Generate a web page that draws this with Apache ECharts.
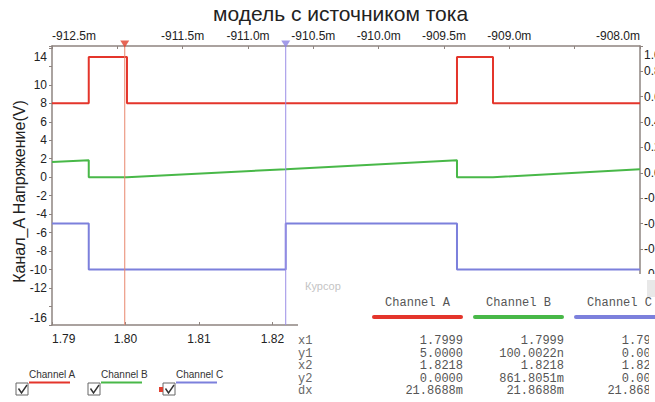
<!DOCTYPE html>
<html>
<head>
<meta charset="utf-8">
<script src="https://cdn.jsdelivr.net/npm/echarts@6/dist/echarts.min.js"></script>
<style>
  html, body { margin: 0; padding: 0; background: #ffffff; }
  #chart { width: 655px; height: 402px; }
</style>
</head>
<body>
<div id="chart"></div>
<script>
// Displayed traces: [time (s), level on the left scale (V)]
const channelA = [[1.79, 8], [1.7950, 8], [1.7950, 13], [1.8002, 13], [1.8002, 8],
                  [1.8451, 8], [1.8451, 13], [1.8500, 13], [1.8500, 8], [1.87, 8]];
const channelB = [[1.79, 1.64], [1.7950, 1.83], [1.7950, 0], [1.8002, 0], [1.8218, 0.86],
                  [1.8451, 1.82], [1.8451, 0], [1.8500, 0], [1.87, 0.85]];
const channelC = [[1.79, -5], [1.7950, -5], [1.7950, -10], [1.8218, -10], [1.8218, -5],
                  [1.8451, -5], [1.8451, -10], [1.87, -10]];

const channelNames = ['Channel A', 'Channel B', 'Channel C'];

// Cursor positions (s)
const cursorX = [1.7999, 1.8218];

// Axis ranges
const timeRange = [1.79, 1.87];
const offsetRange = [-912.5, -908.0];     // top scale, in m
const leftRange = [-16, 14.2];
const rightRange = [-1.2, 1.0];
const hiddenLeftTicks = [12, -14];
const hiddenTopTicks = [-912.0, -908.5];
const lastTimeLabel = 1.82;               // later labels sit under the readout panel
const lowestRightLabel = -0.8;

// Cursor readout table
const tableRows = ['x1', 'y1', 'x2', 'y2', 'dx'];
const tableA = ['1.7999', '5.0000', '1.8218', '0.0000', '21.8688m'];
const tableB = ['1.7999', '100.0022n', '1.8218', '861.8051m', '21.8688m'];
const tableC = ['1.7999', '0.0000', '1.8218', '0.0000', '21.8688m'];

const colors = ['#e4352b', '#48b848', '#7c80dc'];
const cursorColors = ['#e8866c', '#9a8ee6'];
const markerColors = ['#e0402c', '#8c82e2'];
const axisColor = '#8e8480';
const sans = 'Liberation Sans, Arial, sans-serif';
const mono = 'Liberation Mono, Courier New, monospace';

const chart = echarts.init(document.getElementById('chart'), null, { renderer: 'svg' });

// Cursor readout panel drawn over the lower right corner
const panel = [];
panel.push({ type: 'rect', shape: { x: 298, y: 274, width: 357, height: 128 },
  style: { fill: '#ffffff' }, z: 100 });
panel.push({ type: 'text', x: 305, y: 286, z: 101,
  style: { text: 'Курсор', fill: '#c4c4c4', font: '11px ' + sans, verticalAlign: 'middle' } });
const colLeft = [372, 473, 574];
const colWidth = 91;
const rowTop = 341;
const rowStep = 12.5;
const tables = [tableA, tableB, tableC];
channelNames.forEach((name, i) => {
  panel.push({ type: 'text', x: colLeft[i] + colWidth / 2, y: 303, z: 101,
    style: { text: name, fill: '#555', font: '12px ' + mono, align: 'center', verticalAlign: 'middle' } });
  panel.push({ type: 'line', z: 101,
    shape: { x1: colLeft[i] + 2, y1: 317, x2: colLeft[i] + colWidth - 2, y2: 317 },
    style: { stroke: colors[i], lineWidth: 4, lineCap: 'round' } });
  tables[i].forEach((val, r) => {
    panel.push({ type: 'text', x: colLeft[i] + colWidth, y: rowTop + r * rowStep, z: 101,
      style: { text: val, fill: '#555', font: '12px ' + mono, lineHeight: 12,
               align: 'right', verticalAlign: 'middle' } });
  });
});
tableRows.forEach((row, r) => {
  panel.push({ type: 'text', x: 298, y: rowTop + r * rowStep, z: 101,
    style: { text: row, fill: '#666', font: '12px ' + mono, lineHeight: 12,
             align: 'left', verticalAlign: 'middle' } });
});
// scroll bar strip at the right edge of the readout
panel.push({ type: 'rect', shape: { x: 649, y: 324, width: 6, height: 78 },
  style: { fill: '#ffffff' }, z: 102 });
panel.push({ type: 'rect', shape: { x: 647, y: 280, width: 8, height: 17 },
  style: { fill: '#e8e8e8' }, z: 102 });

// Checkbox legend under the plot
const legendLeft = [16, 88, 163];
channelNames.forEach((name, i) => {
  const x = legendLeft[i];
  panel.push({ type: 'rect', shape: { x: x, y: 383, width: 12, height: 12 },
    style: { fill: '#fff', stroke: '#666', lineWidth: 1 }, z: 101 });
  panel.push({ type: 'polyline', z: 102,
    shape: { points: [[x + 2.5, 388.5], [x + 5.5, 393], [x + 11, 385]] },
    style: { stroke: '#333', lineWidth: 1.4, fill: null } });
  panel.push({ type: 'text', x: x + 13, y: 374, z: 101,
    style: { text: name, fill: '#333', font: '10px ' + sans, verticalAlign: 'middle' } });
  panel.push({ type: 'line', z: 101,
    shape: { x1: x + 13, y1: 382.5, x2: x + 54, y2: 382.5 },
    style: { stroke: colors[i], lineWidth: 2 } });
});
panel.push({ type: 'rect', shape: { x: 159, y: 387, width: 4, height: 5 },
  style: { fill: '#e04030' }, z: 101 });

function isHidden(v, list) {
  return list.some(h => Math.abs(v - h) < 1e-6);
}

const axisLineStyle = { show: true, onZero: false, lineStyle: { color: axisColor, width: 1.5 } };

const option = {
  backgroundColor: '#ffffff',
  animation: false,
  title: {
    text: 'модель с источником тока',
    left: 213, top: 3, padding: 0,
    textStyle: { fontFamily: sans, fontSize: 21, fontWeight: 'normal', color: '#222' }
  },
  grid: { left: 52, right: 15, top: 46, bottom: 77, containLabel: false, outerBoundsMode: 'none' },
  xAxis: [
    {
      type: 'value', position: 'bottom',
      min: timeRange[0], max: timeRange[1], interval: 0.01,
      axisLine: axisLineStyle,
      axisTick: { show: true, inside: true, length: 3, lineStyle: { color: axisColor } },
      splitLine: { show: false },
      axisLabel: {
        margin: 8, fontFamily: sans, fontSize: 12, color: '#222',
        alignMinLabel: 'left', hideOverlap: false,
        formatter: v => v > lastTimeLabel + 1e-6 ? '' : v.toFixed(2)
      }
    },
    {
      type: 'value', position: 'top',
      min: offsetRange[0], max: offsetRange[1], interval: 0.5,
      axisLine: axisLineStyle,
      axisTick: { show: true, inside: true, length: 3, lineStyle: { color: axisColor } },
      splitLine: { show: false },
      axisLabel: {
        margin: 4, fontFamily: sans, fontSize: 12, color: '#222',
        alignMinLabel: 'left', alignMaxLabel: 'right', hideOverlap: false,
        formatter: v => isHidden(v, hiddenTopTicks) ? '' : v.toFixed(1) + 'm'
      }
    }
  ],
  yAxis: [
    {
      type: 'value', position: 'left',
      min: leftRange[0], max: leftRange[1], interval: 2,
      name: 'Канал_A Напряжение(V)', nameLocation: 'middle', nameGap: 25,
      nameMoveOverlap: false,
      nameTextStyle: { fontFamily: sans, fontSize: 16, color: '#222', padding: [0, 12, 0, 0] },
      axisLine: axisLineStyle,
      axisTick: { show: true, inside: false, length: 3, lineStyle: { color: axisColor } },
      splitLine: { show: false },
      axisLabel: {
        margin: 5, fontFamily: sans, fontSize: 12, color: '#222', hideOverlap: false,
        formatter: v => {
          if (Math.abs(v - Math.round(v)) > 1e-6 || isHidden(v, hiddenLeftTicks)) return '';
          const n = Math.round(v);
          if (n === 14) return '{t|14}';
          if (n === -16) return '{b|-16}';
          return String(n);
        },
        rich: {
          t: { fontFamily: sans, fontSize: 12, color: '#222', padding: [18, 0, 0, 0] },
          b: { fontFamily: sans, fontSize: 12, color: '#222', padding: [0, 0, 15, 0] }
        }
      }
    },
    {
      type: 'value', position: 'right',
      min: rightRange[0], max: rightRange[1], interval: 0.2,
      axisLine: axisLineStyle,
      axisTick: { show: true, inside: false, length: 3, lineStyle: { color: axisColor } },
      splitLine: { show: false },
      axisLabel: {
        margin: 4, fontFamily: sans, fontSize: 12, color: '#222', hideOverlap: false,
        formatter: v => {
          if (v < lowestRightLabel - 1e-6) return '';
          const s = (Math.abs(v) < 1e-9 ? 0 : v).toFixed(1);
          return Math.abs(v - rightRange[1]) < 1e-6 ? '{t|' + s + '}' : s;
        },
        rich: { t: { fontFamily: sans, fontSize: 12, color: '#222', padding: [18, 0, 0, 0] } }
      }
    }
  ],
  series: [
    ...[channelA, channelB, channelC].map((data, i) => ({
      name: channelNames[i], type: 'line', data: data,
      xAxisIndex: 0, yAxisIndex: 0,
      showSymbol: false, symbol: 'none',
      lineStyle: { color: colors[i], width: 2 },
      itemStyle: { color: colors[i] },
      z: 3, silent: true
    })),
    // vertical cursor lines spanning the full plot height
    ...cursorX.map((x, i) => ({
      name: 'cursor ' + (i + 1), type: 'line',
      xAxisIndex: 0, yAxisIndex: 0, silent: true,
      showSymbol: false, symbol: 'none',
      data: [[x, leftRange[0]], [x, leftRange[1]]],
      lineStyle: { color: cursorColors[i], width: 1 },
      z: 4
    })),
    {
      name: 'cursor markers', type: 'scatter',
      xAxisIndex: 0, yAxisIndex: 0, clip: false, silent: true,
      symbol: 'triangle', symbolSize: [9, 7], symbolRotate: 180, symbolOffset: [0, -2],
      data: cursorX.map((x, i) => ({ value: [x, leftRange[1]], itemStyle: { color: markerColors[i] } })),
      z: 5
    }
  ],
  graphic: { elements: panel }
};

chart.setOption(option);
</script>
</body>
</html>
